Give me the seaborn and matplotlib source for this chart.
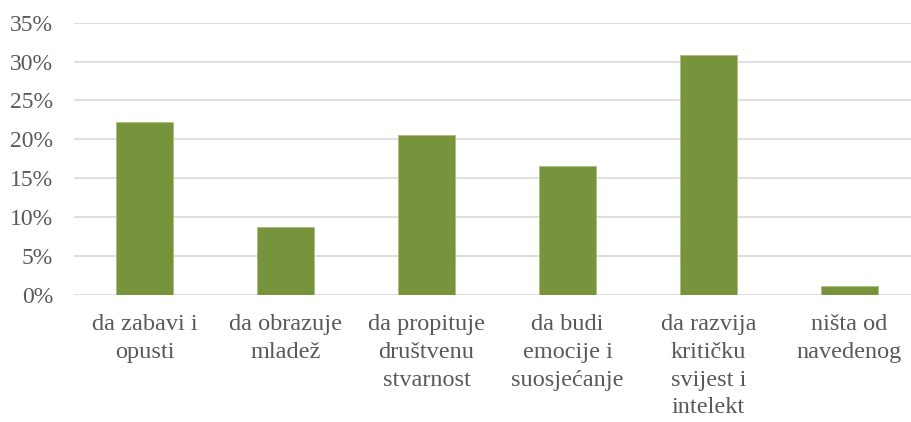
import matplotlib
matplotlib.use("Agg")
import matplotlib.pyplot as plt
import seaborn as sns
import pandas as pd
from matplotlib.ticker import PercentFormatter

# ── Data ─────────────────────────────────────────────
categories = [
    "da zabavi i\nopusti",
    "da obrazuje\nmladež",
    "da propituje\ndruštvenu\nstvarnost",
    "da budi\nemocije i\nsuosjećanje",
    "da razvija\nkritičku\nsvijest i\nintelekt",
    "ništa od\nnavedenog",
]
shares = [0.222, 0.0875, 0.206, 0.165, 0.309, 0.0107]
y_ticks = [0, 0.05, 0.10, 0.15, 0.20, 0.25, 0.30, 0.35]

df = pd.DataFrame({"kategorija": categories, "udio": shares})

sns.set_theme(style="white")
plt.rcParams["font.family"] = ["Liberation Serif", "DejaVu Serif"]
plt.rcParams["font.serif"] = ["Liberation Serif", "DejaVu Serif"]

fig = plt.figure(figsize=(9.12, 4.22), dpi=100)
ax = fig.add_axes([74 / 912, 127.3 / 422, 846 / 912, 272 / 422])

sns.barplot(data=df, x="kategorija", y="udio", color="#77933c", width=0.4,
            saturation=1, edgecolor="#a9c07a", linewidth=0.6, ax=ax, zorder=3)

ax.set_ylim(0, 0.35)
ax.set_yticks(y_ticks)
ax.yaxis.set_major_formatter(PercentFormatter(1.0, decimals=0))
ax.grid(axis="y", color="#d9d9d9", linewidth=1.2, zorder=0)
ax.set_axisbelow(True)
for sp in ax.spines.values():
    sp.set_visible(False)

ax.set_xlabel("")
ax.set_ylabel("")
ax.tick_params(axis="y", length=0, pad=15, labelsize=17, labelcolor="#595959")
ax.tick_params(axis="x", length=0, pad=14, labelsize=17.5, labelcolor="#595959")
for lbl in ax.get_xticklabels() + ax.get_yticklabels():
    lbl.set_fontfamily("Liberation Serif")
for lbl in ax.get_xticklabels():
    lbl.set_linespacing(1.42)
    lbl.set_multialignment("center")

fig.savefig("out.png", dpi=100, facecolor="white")
